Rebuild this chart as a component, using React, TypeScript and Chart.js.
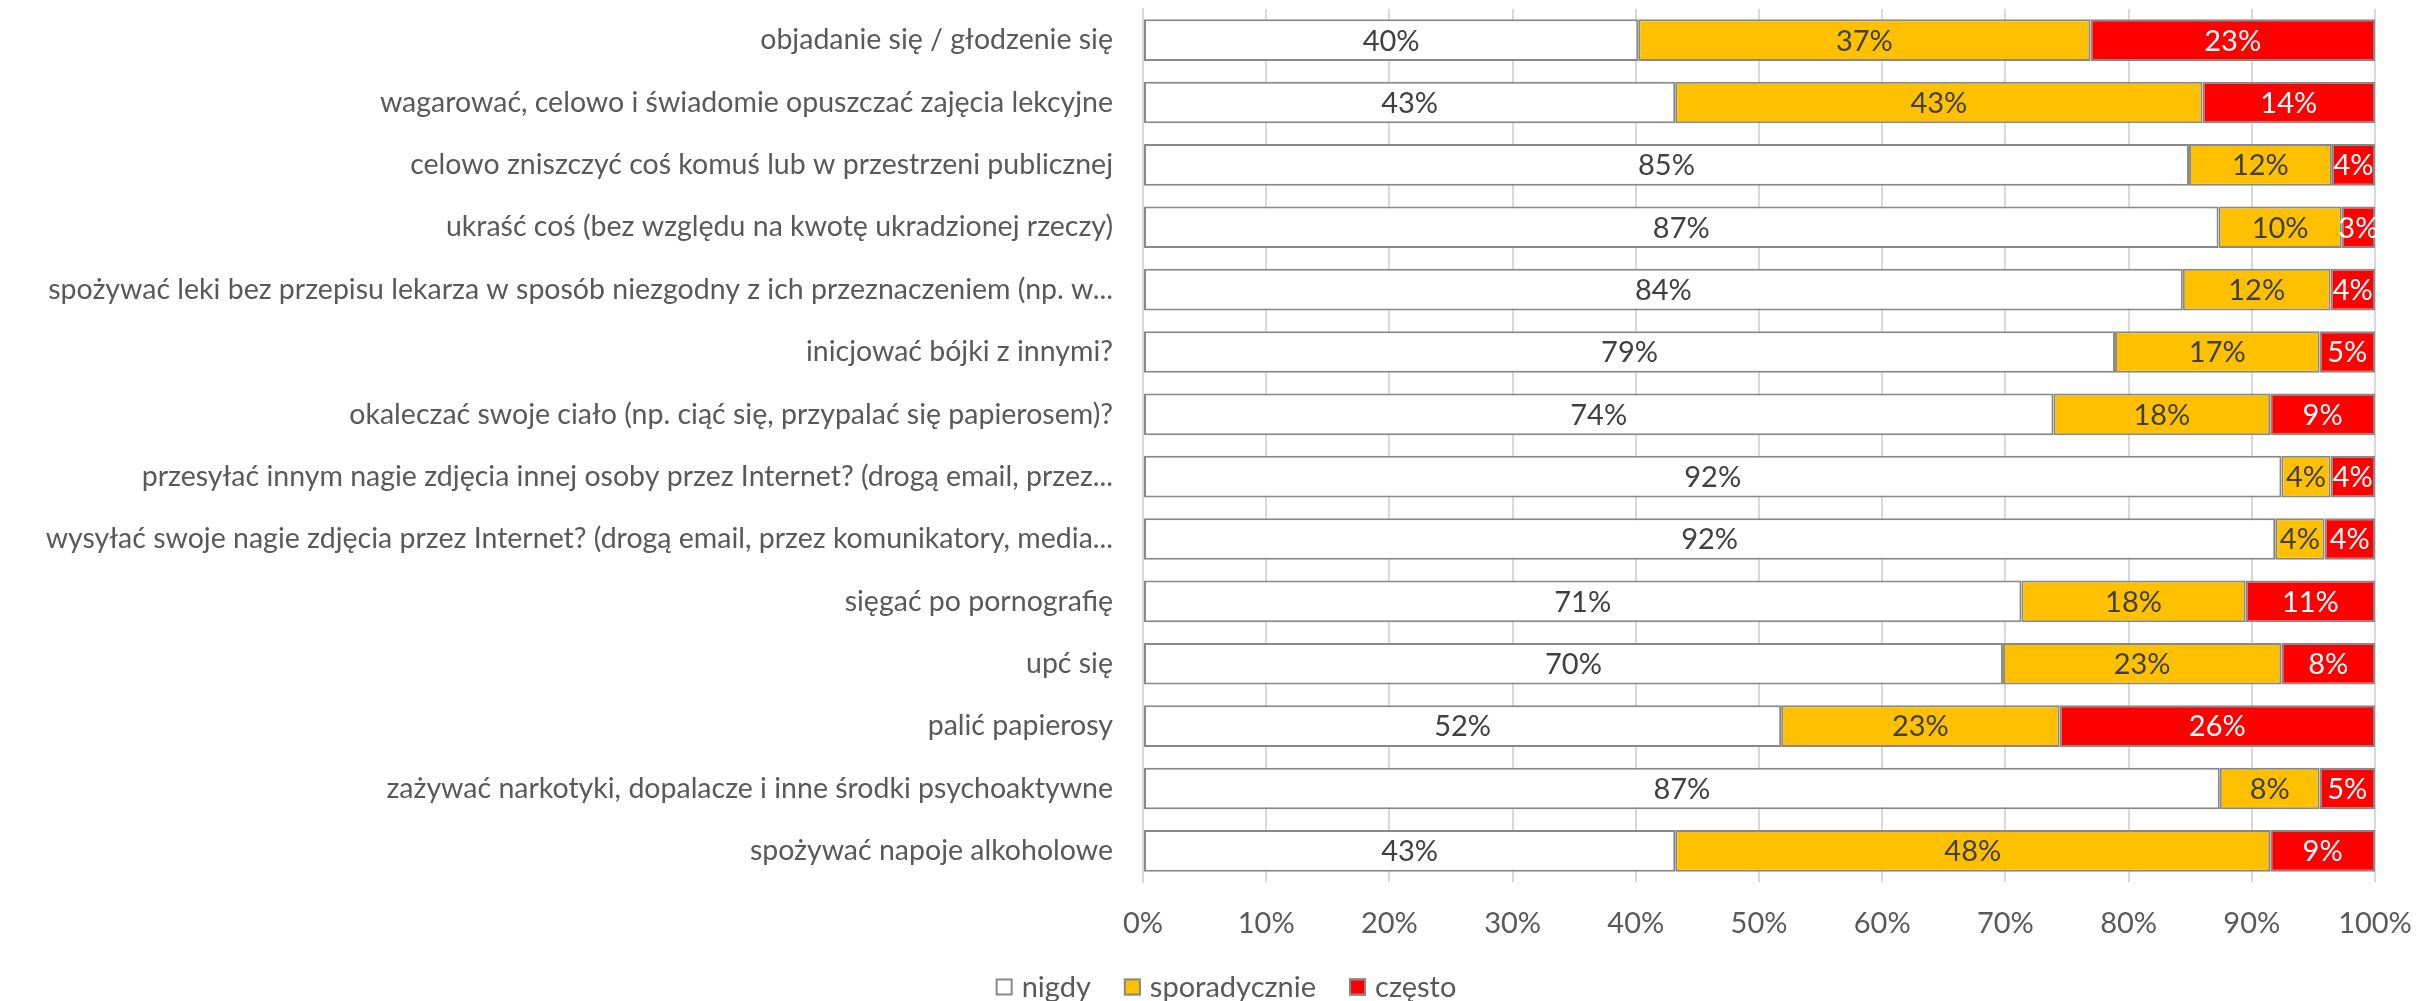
import React, { useEffect, useRef } from 'react';
import { Chart, registerables } from 'chart.js';

Chart.register(...registerables);

const categories = [
  'objadanie się / głodzenie się',
  'wagarować, celowo i świadomie opuszczać zajęcia lekcyjne',
  'celowo zniszczyć coś komuś lub w przestrzeni publicznej',
  'ukraść coś (bez względu na kwotę ukradzionej rzeczy)',
  'spożywać leki bez przepisu lekarza w sposób niezgodny z ich przeznaczeniem (np. w...',
  'inicjować bójki z innymi?',
  'okaleczać swoje ciało (np. ciąć się, przypalać się papierosem)?',
  'przesyłać innym nagie zdjęcia innej osoby przez Internet? (drogą email, przez...',
  'wysyłać swoje nagie zdjęcia przez Internet? (drogą email, przez komunikatory, media...',
  'sięgać po pornografię',
  'upć się',
  'palić papierosy',
  'zażywać narkotyki, dopalacze i inne środki psychoaktywne',
  'spożywać napoje alkoholowe',
];

const nigdy = [40.2, 43.2, 84.9, 87.3, 84.4, 78.9, 73.9, 92.4, 91.9, 71.3, 69.8, 51.8, 87.4, 43.2];
const sporadycznie = [36.7, 42.8, 11.6, 10.0, 12.0, 16.6, 17.6, 4.0, 4.0, 18.2, 22.6, 22.6, 8.1, 48.3];
const czesto = [23.1, 14.0, 3.5, 2.7, 3.6, 4.5, 8.5, 3.6, 4.1, 10.5, 7.6, 25.6, 4.5, 8.5];

const seriesNames = ['nigdy', 'sporadycznie', 'często'];
const seriesValues = [nigdy, sporadycznie, czesto];
const seriesColors = ['#FFFFFF', '#FFC000', '#FF0000'];
const valueLabelColors = ['#404040', '#404040', '#FFFFFF'];

const xMin = 0;
const xMax = 100;
const xStep = 10;

const FONT = 'Lato';
const FONT_SIZE = 29;
const CAT_FONT_SIZE = 28.5;
const BORDER = '#888888';

const dataLabelPlugin = {
  id: 'segmentLabels',
  afterDatasetsDraw(chart: any) {
    const ctx = chart.ctx;
    ctx.save();
    ctx.font = `${FONT_SIZE}px ${FONT}`;
    ctx.textAlign = 'center';
    ctx.textBaseline = 'middle';
    chart.data.datasets.forEach((ds: any, i: number) => {
      const meta = chart.getDatasetMeta(i);
      meta.data.forEach((el: any, j: number) => {
        const v = ds.data[j];
        const p = el.getProps(['x', 'y', 'base'], true);
        ctx.fillStyle = valueLabelColors[i];
        ctx.fillText(Math.round(v) + '%', (p.x + p.base) / 2, p.y + 1);
      });
    });
    ctx.restore();
  },
};

const legendPlugin = {
  id: 'bottomLegend',
  afterDraw(chart: any) {
    const ctx = chart.ctx;
    const box = 17;
    const gap = 9;
    const spacing = 33;
    const centerX = 1226;
    const centerY = 987;
    ctx.save();
    ctx.font = `${FONT_SIZE}px ${FONT}`;
    ctx.textBaseline = 'middle';
    ctx.textAlign = 'left';
    const items = chart.data.datasets.map((ds: any) => ({
      label: ds.label,
      color: ds.backgroundColor,
      w: box + gap + ctx.measureText(ds.label).width,
    }));
    const total = items.reduce((a: number, it: any) => a + it.w, 0) + spacing * (items.length - 1);
    let x = centerX - total / 2;
    items.forEach((it: any) => {
      ctx.fillStyle = it.color;
      ctx.fillRect(x, centerY - box / 2, box, box);
      ctx.strokeStyle = BORDER;
      ctx.lineWidth = 2;
      ctx.strokeRect(x + 1, centerY - box / 2 + 1, box - 2, box - 2);
      ctx.fillStyle = '#595959';
      ctx.fillText(it.label, x + box + gap, centerY + 1);
      x += it.w + spacing;
    });
    ctx.restore();
  },
};

export default function App() {
  const ref = useRef<HTMLCanvasElement | null>(null);

  useEffect(() => {
    document.body.style.margin = '0';
    const canvas = ref.current;
    if (!canvas) return;
    const chart = new Chart(canvas, {
      type: 'bar',
      data: {
        labels: categories,
        datasets: seriesNames.map((name, i) => ({
          label: name,
          data: seriesValues[i],
          backgroundColor: seriesColors[i],
          borderColor: BORDER,
          borderWidth: 2,
          borderSkipped: false,
          barPercentage: 0.668,
          categoryPercentage: 1,
        })),
      },
      options: {
        indexAxis: 'y',
        responsive: false,
        animation: false,
        devicePixelRatio: 1,
        layout: { padding: { left: 34, right: 43, top: 9, bottom: 61 } },
        plugins: {
          tooltip: { enabled: false },
          legend: { display: false },
        },
        scales: {
          x: {
            stacked: true,
            min: xMin,
            max: xMax,
            ticks: {
              stepSize: xStep,
              padding: 24,
              color: '#595959',
              font: { family: FONT, size: FONT_SIZE },
              callback: (v: any) => v + '%',
            },
            grid: { color: '#D9D9D9', lineWidth: 2, drawTicks: false },
            border: { display: false },
            afterFit: (s: any) => {
              s.height = 58;
              s.paddingLeft = 0;
              s.paddingRight = 0;
            },
          },
          y: {
            stacked: true,
            ticks: {
              autoSkip: false,
              padding: 30,
              color: '#595959',
              font: { family: FONT, size: CAT_FONT_SIZE },
            },
            grid: { display: false, drawTicks: false },
            border: { display: true, color: '#D9D9D9', width: 2 },
            afterFit: (s: any) => {
              s.width = 1109;
              s.paddingTop = 0;
              s.paddingBottom = 0;
            },
          },
        },
      },
      plugins: [dataLabelPlugin, legendPlugin],
    } as any);
    return () => chart.destroy();
  }, []);

  return (
    <div style={{ width: 2418, height: 1001, overflow: 'hidden' }}>
      <canvas ref={ref} width={2418} height={1001} style={{ display: 'block' }} />
    </div>
  );
}
